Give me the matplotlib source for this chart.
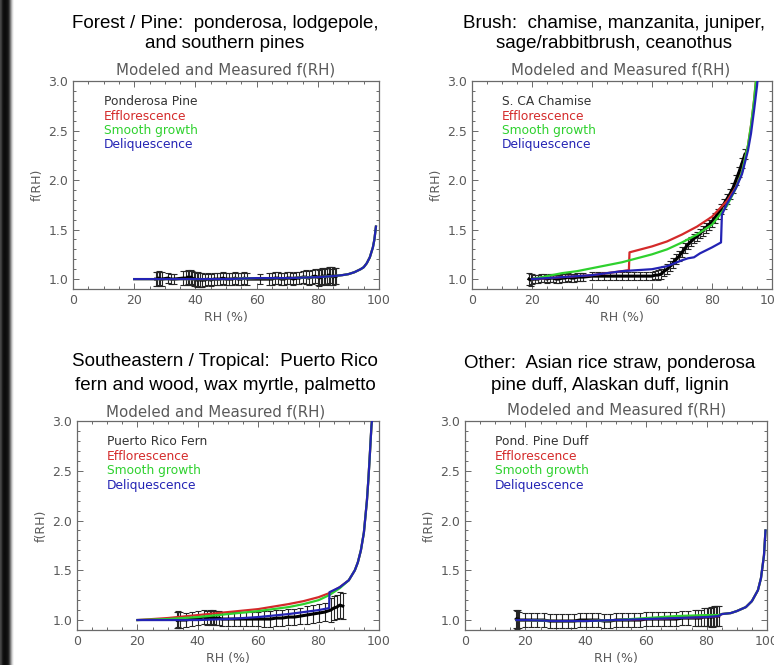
import numpy as np
import matplotlib
matplotlib.use("Agg")
import matplotlib.pyplot as plt
from matplotlib.ticker import MultipleLocator

# ---------------- data ----------------
headings = [
    ("Forest / Pine:  ponderosa, lodgepole,", "and southern pines"),
    ("Brush:  chamise, manzanita, juniper,", "sage/rabbitbrush, ceanothus"),
    ("Southeastern / Tropical:  Puerto Rico", "fern and wood, wax myrtle, palmetto"),
    ("Other:  Asian rice straw, ponderosa", "pine duff, Alaskan duff, lignin"),
]
sample_names = ["Ponderosa Pine", "S. CA Chamise", "Puerto Rico Fern", "Pond. Pine Duff"]
model_names = ["Efflorescence", "Smooth growth", "Deliquescence"]

# Panel 1: Ponderosa Pine (measured)
rh_meas1 = [27, 27.5, 28, 28.5, 29, 31, 32, 33, 36, 37,
            37.5, 38, 38.5, 39, 39.5, 40, 40.5, 41, 41.5, 42,
            43, 44, 45, 46, 47, 48, 49, 50, 51, 52,
            53, 54, 55, 56, 57, 61, 64, 65, 66, 67,
            68, 69, 70, 71, 72, 73, 74, 75, 76, 77,
            78, 79, 80, 80.5, 81, 81.5, 82, 82.5, 83, 83.5,
            84, 84.5, 85, 85.5, 86]
f_meas1 = [1.00, 1.00, 1.01, 1.00, 1.00, 1.01, 1.00, 1.00, 1.01, 1.01,
           1.02, 1.01, 1.02, 1.01, 1.00, 1.00, 0.99, 1.00, 0.99, 0.99,
           0.99, 1.00, 0.99, 1.00, 1.00, 1.00, 1.01, 1.00, 1.00, 1.00,
           1.01, 1.00, 1.00, 1.01, 1.00, 1.00, 1.00, 1.00, 1.01, 1.01,
           1.00, 1.00, 1.01, 1.01, 1.00, 1.01, 1.01, 1.02, 1.02, 1.01,
           1.02, 1.03, 1.02, 1.01, 1.02, 1.03, 1.03, 1.02, 1.03, 1.04,
           1.03, 1.03, 1.02, 1.03, 1.03]
err_meas1 = [0.07, 0.07, 0.07, 0.07, 0.07, 0.05, 0.05, 0.05, 0.07, 0.07,
             0.07, 0.07, 0.07, 0.07, 0.07, 0.07, 0.07, 0.07, 0.07, 0.07,
             0.06, 0.06, 0.06, 0.06, 0.06, 0.06, 0.06, 0.06, 0.06, 0.06,
             0.06, 0.06, 0.06, 0.06, 0.06, 0.05, 0.06, 0.06, 0.06, 0.06,
             0.06, 0.06, 0.06, 0.06, 0.06, 0.06, 0.06, 0.06, 0.07, 0.07,
             0.07, 0.07, 0.08, 0.08, 0.08, 0.08, 0.08, 0.08, 0.08, 0.08,
             0.09, 0.09, 0.08, 0.08, 0.08]

# Panel 1: model curves
rh_eff1 = [20, 30, 40, 50, 60, 70, 80, 85, 88, 90, 92, 94, 95, 96, 97, 98, 98.5, 99]
f_eff1 = [1.00, 1.00, 1.00, 1.00, 1.01, 1.01, 1.02, 1.03, 1.04, 1.05, 1.07, 1.10, 1.12, 1.16, 1.22, 1.32, 1.40, 1.53]
rh_grow1 = [20, 30, 40, 50, 60, 70, 80, 85, 88, 90, 92, 94, 95, 96, 97, 98, 98.5, 99]
f_grow1 = [1.00, 1.00, 1.00, 1.00, 1.01, 1.01, 1.02, 1.03, 1.04, 1.05, 1.07, 1.10, 1.12, 1.16, 1.22, 1.32, 1.40, 1.53]
rh_deliq1 = [20, 30, 40, 50, 60, 70, 80, 85, 88, 90, 92, 94, 95, 96, 97, 98, 98.5, 99]
f_deliq1 = [1.00, 1.00, 1.00, 1.00, 1.01, 1.01, 1.02, 1.03, 1.04, 1.05, 1.07, 1.10, 1.12, 1.16, 1.22, 1.32, 1.40, 1.53]

# Panel 2: S. CA Chamise (measured)
rh_meas2 = [19, 19.5, 20, 21, 22, 23, 24, 25, 26, 27,
            28, 29, 30, 31, 32, 33, 34, 35, 36, 37,
            40, 42, 44, 46, 48, 50, 52, 54, 56, 58,
            60, 61, 62, 63, 64, 65, 66, 67, 68, 69,
            70, 71, 72, 73, 74, 75, 76, 77, 78, 79,
            80, 81, 82, 83, 84, 85, 86, 87, 88, 89,
            90, 91]
f_meas2 = [1.00, 0.99, 1.00, 1.00, 1.00, 1.01, 1.01, 1.00, 1.01, 1.01,
           1.00, 1.00, 1.01, 1.01, 1.02, 1.01, 1.01, 1.02, 1.02, 1.02,
           1.03, 1.03, 1.03, 1.03, 1.03, 1.03, 1.03, 1.03, 1.03, 1.03,
           1.03, 1.04, 1.04, 1.05, 1.08, 1.10, 1.13, 1.16, 1.20, 1.23,
           1.27, 1.31, 1.35, 1.38, 1.41, 1.43, 1.46, 1.49, 1.52, 1.55,
           1.58, 1.62, 1.66, 1.71, 1.76, 1.81, 1.86, 1.92, 2.00, 2.08,
           2.17, 2.26]
err_meas2 = [0.06, 0.06, 0.05, 0.04, 0.04, 0.04, 0.04, 0.04, 0.04, 0.04,
             0.04, 0.04, 0.04, 0.04, 0.04, 0.04, 0.04, 0.04, 0.04, 0.04,
             0.04, 0.04, 0.04, 0.04, 0.04, 0.04, 0.04, 0.04, 0.04, 0.04,
             0.04, 0.04, 0.05, 0.05, 0.05, 0.05, 0.05, 0.05, 0.05, 0.05,
             0.05, 0.05, 0.05, 0.05, 0.05, 0.05, 0.05, 0.05, 0.05, 0.05,
             0.05, 0.05, 0.05, 0.05, 0.05, 0.05, 0.05, 0.05, 0.05, 0.05,
             0.05, 0.05]

# Panel 2: model curves
rh_eff2 = [20, 25, 30, 35, 40, 45, 50, 52.3, 52.5, 55, 60, 65, 70, 75, 80, 85, 88, 90, 92, 93, 94, 94.8]
f_eff2 = [1.00, 1.01, 1.02, 1.03, 1.04, 1.06, 1.08, 1.09, 1.27, 1.29, 1.33, 1.38, 1.45, 1.53, 1.63, 1.79, 1.93, 2.08, 2.35, 2.55, 2.80, 3.05]
rh_grow2 = [20, 25, 30, 35, 40, 45, 50, 55, 60, 65, 70, 75, 80, 85, 88, 90, 92, 93, 94, 94.8]
f_grow2 = [1.00, 1.03, 1.06, 1.08, 1.11, 1.14, 1.17, 1.21, 1.25, 1.30, 1.37, 1.45, 1.55, 1.74, 1.92, 2.08, 2.35, 2.55, 2.80, 3.05]
rh_deliq2 = [20, 25, 30, 35, 40, 45, 50, 55, 60, 65, 70, 72, 74, 76, 80, 83, 83.3, 85, 88, 90, 92, 93, 94, 95, 95.3]
f_deliq2 = [1.00, 1.01, 1.02, 1.03, 1.04, 1.06, 1.08, 1.09, 1.10, 1.13, 1.19, 1.21, 1.22, 1.26, 1.32, 1.37, 1.65, 1.76, 1.92, 2.06, 2.30, 2.47, 2.70, 2.95, 3.05]

# Panel 3: Puerto Rico Fern (measured)
rh_meas3 = [33, 33.3, 33.6, 34, 36, 38, 40, 42, 43, 44,
            44.5, 45, 45.5, 46, 47, 48, 50, 52, 54, 56,
            58, 60, 62, 64, 66, 68, 70, 72, 74, 76,
            78, 80, 82, 84, 85, 86, 87, 88]
f_meas3 = [1.00, 1.01, 1.00, 1.00, 1.00, 1.01, 1.02, 1.03, 1.02, 1.03,
           1.02, 1.03, 1.02, 1.02, 1.02, 1.01, 1.01, 1.01, 1.01, 1.01,
           1.01, 1.01, 1.01, 1.01, 1.02, 1.02, 1.03, 1.03, 1.04, 1.05,
           1.06, 1.07, 1.08, 1.10, 1.12, 1.13, 1.15, 1.14]
err_meas3 = [0.08, 0.08, 0.08, 0.08, 0.07, 0.07, 0.07, 0.07, 0.07, 0.07,
             0.07, 0.07, 0.07, 0.07, 0.07, 0.07, 0.07, 0.07, 0.07, 0.07,
             0.07, 0.07, 0.08, 0.08, 0.08, 0.08, 0.08, 0.08, 0.08, 0.09,
             0.09, 0.09, 0.09, 0.12, 0.12, 0.12, 0.13, 0.13]

# Panel 3: model curves
rh_eff3 = [20, 30, 40, 50, 60, 70, 75, 80, 83.5, 87, 90, 92, 93, 94, 95, 96, 96.5, 97, 97.5, 97.8]
f_eff3 = [1.00, 1.02, 1.05, 1.08, 1.11, 1.16, 1.19, 1.23, 1.27, 1.33, 1.40, 1.50, 1.58, 1.70, 1.88, 2.20, 2.42, 2.68, 2.95, 3.05]
rh_grow3 = [20, 30, 40, 50, 60, 70, 75, 80, 83.5, 87, 90, 92, 93, 94, 95, 96, 96.5, 97, 97.5, 97.8]
f_grow3 = [1.00, 1.01, 1.03, 1.06, 1.09, 1.13, 1.16, 1.20, 1.25, 1.32, 1.40, 1.50, 1.58, 1.70, 1.88, 2.20, 2.42, 2.68, 2.95, 3.05]
rh_deliq3 = [20, 30, 40, 50, 60, 70, 75, 80, 83.5, 83.6, 85, 87, 90, 92, 93, 94, 95, 96, 96.5, 97, 97.5, 97.8]
f_deliq3 = [1.00, 1.00, 1.00, 1.01, 1.03, 1.06, 1.08, 1.10, 1.12, 1.28, 1.30, 1.33, 1.40, 1.50, 1.58, 1.70, 1.88, 2.20, 2.42, 2.68, 2.95, 3.05]

# Panel 4: Pond. Pine Duff (measured)
rh_meas4 = [17, 17.3, 17.6, 18, 20, 22, 24, 26, 28, 30,
            32, 34, 36, 38, 40, 42, 44, 46, 48, 50,
            52, 54, 56, 58, 60, 62, 64, 66, 68, 70,
            72, 74, 76, 77, 78, 79, 80, 80.5, 81, 81.5,
            82, 82.5, 83, 83.5, 84]
f_meas4 = [1.01, 1.00, 1.01, 1.00, 1.00, 1.00, 1.00, 1.00, 0.99, 0.99,
           0.99, 0.99, 0.99, 1.00, 1.00, 1.00, 1.00, 0.99, 0.99, 1.00,
           1.00, 1.00, 1.00, 1.00, 1.01, 1.01, 1.01, 1.01, 1.01, 1.01,
           1.02, 1.02, 1.02, 1.02, 1.02, 1.03, 1.03, 1.03, 1.03, 1.03,
           1.03, 1.04, 1.04, 1.04, 1.04]
err_meas4 = [0.09, 0.09, 0.09, 0.08, 0.07, 0.07, 0.07, 0.07, 0.07, 0.07,
             0.07, 0.07, 0.07, 0.07, 0.07, 0.07, 0.07, 0.07, 0.07, 0.07,
             0.07, 0.07, 0.07, 0.07, 0.07, 0.07, 0.07, 0.07, 0.07, 0.07,
             0.07, 0.07, 0.08, 0.08, 0.08, 0.09, 0.09, 0.09, 0.09, 0.10,
             0.10, 0.10, 0.10, 0.10, 0.10]

# Panel 4: model curves
rh_eff4 = [17, 20, 30, 40, 50, 60, 70, 80, 84, 85, 88, 90, 93, 95, 97, 98, 99, 99.5]
f_eff4 = [1.00, 1.00, 0.99, 0.99, 1.00, 1.01, 1.02, 1.03, 1.04, 1.06, 1.07, 1.09, 1.13, 1.19, 1.30, 1.42, 1.65, 1.90]
rh_grow4 = [17, 20, 30, 40, 50, 60, 70, 80, 84, 85, 88, 90, 93, 95, 97, 98, 99, 99.5]
f_grow4 = [1.00, 1.00, 0.99, 0.99, 1.00, 1.02, 1.04, 1.05, 1.05, 1.06, 1.07, 1.09, 1.13, 1.19, 1.30, 1.42, 1.65, 1.90]
rh_deliq4 = [17, 20, 30, 40, 50, 60, 70, 80, 84, 85, 88, 90, 93, 95, 97, 98, 99, 99.5]
f_deliq4 = [1.00, 1.00, 0.99, 0.99, 1.00, 1.01, 1.02, 1.03, 1.04, 1.06, 1.07, 1.09, 1.13, 1.19, 1.30, 1.42, 1.65, 1.90]

panels = [
    (rh_meas1, f_meas1, err_meas1, [(rh_eff1, f_eff1), (rh_grow1, f_grow1), (rh_deliq1, f_deliq1)]),
    (rh_meas2, f_meas2, err_meas2, [(rh_eff2, f_eff2), (rh_grow2, f_grow2), (rh_deliq2, f_deliq2)]),
    (rh_meas3, f_meas3, err_meas3, [(rh_eff3, f_eff3), (rh_grow3, f_grow3), (rh_deliq3, f_deliq3)]),
    (rh_meas4, f_meas4, err_meas4, [(rh_eff4, f_eff4), (rh_grow4, f_grow4), (rh_deliq4, f_deliq4)]),
]

# ---------------- layout / style ----------------
W, H = 774, 665
model_colors = ["#d42a2a", "#2ed12e", "#2323b4"]
axis_gray = "#6a6a6a"
text_gray = "#5a5a5a"

# axes boxes in pixels: left, right, top, bottom
boxes = [(73, 379, 81, 289), (472, 772, 81, 289), (77, 379, 421, 630), (465, 767, 421, 630)]
heading_pos = [(225, 23, 43), (614, 23, 43), (225, 362, 385), (610, 363, 385)]
subtitle_pos = [(226, 70), (621, 70), (216, 412), (617, 410)]

fig = plt.figure(figsize=(W / 100, H / 100), dpi=100)
fig.patch.set_facecolor("white")

# dark shaded strip on the left edge
strip = fig.add_axes([0, 0, 15 / W, 1])
shade = np.array([[0.28, 0.22, 0.12, 0.07, 0.05, 0.05, 0.06, 0.08, 0.14, 0.28,
                   0.48, 0.68, 0.85, 0.95, 1.0]])
strip.imshow(shade, cmap="gray", vmin=0, vmax=1, aspect="auto", interpolation="bilinear")
strip.axis("off")

for i, (rh, fm, err, models) in enumerate(panels):
    l, r, t, b = boxes[i]
    ax = fig.add_axes([l / W, 1 - b / H, (r - l) / W, (b - t) / H])
    ax.set_xlim(0, 100)
    ax.set_ylim(0.9, 3.0)

    # measured values with error bars
    ax.errorbar(rh, fm, yerr=err, fmt="none", ecolor="#262626", elinewidth=0.8,
                capsize=2.0, capthick=0.8, zorder=2)
    if i == 1:
        ax.plot(rh, fm, linestyle="none", marker="+", ms=3.5, mew=0.7, color="#555555", zorder=2)
    ax.plot(rh, fm, color="black", lw=2.2, zorder=3)

    # modeled curves
    for (mx, my), c in zip(models, model_colors):
        ax.plot(mx, my, color=c, lw=1.6, zorder=4)

    # legend as coloured text
    ax.text(0.10, 0.90, sample_names[i], transform=ax.transAxes, fontsize=8.8,
            color="#333333", va="center", ha="left")
    for k, (name, c) in enumerate(zip(model_names, model_colors)):
        ax.text(0.10, 0.90 - 0.069 * (k + 1), name, transform=ax.transAxes, fontsize=8.8,
                color=c, va="center", ha="left")

    # axis cosmetics
    for sp in ax.spines.values():
        sp.set_color(axis_gray)
        sp.set_linewidth(0.9)
    ax.xaxis.set_major_locator(MultipleLocator(20))
    ax.xaxis.set_minor_locator(MultipleLocator(5))
    ax.yaxis.set_major_locator(MultipleLocator(0.5))
    ax.yaxis.set_minor_locator(MultipleLocator(0.1))
    ax.tick_params(which="both", direction="in", top=True, right=True, color=axis_gray,
                   labelcolor=text_gray, labelsize=9, width=0.7)
    ax.tick_params(which="major", length=4.5)
    ax.tick_params(which="minor", length=2)
    ax.set_yticks([1.0, 1.5, 2.0, 2.5, 3.0])
    ax.set_yticklabels(["1.0", "1.5", "2.0", "2.5", "3.0"])
    ax.set_xlabel("RH (%)", fontsize=9, color=text_gray, labelpad=3)
    ax.set_ylabel("f(RH)", fontsize=9, color=text_gray, labelpad=3)

    hx, hy1, hy2 = heading_pos[i]
    fig.text(hx / W, 1 - hy1 / H, headings[i][0], fontsize=13.5, family="Liberation Sans",
             ha="center", va="center", color="black")
    fig.text(hx / W, 1 - hy2 / H, headings[i][1], fontsize=13.5, family="Liberation Sans",
             ha="center", va="center", color="black")
    sx, sy = subtitle_pos[i]
    fig.text(sx / W, 1 - sy / H, "Modeled and Measured f(RH)", fontsize=10.8,
             ha="center", va="center", color=text_gray)

fig.savefig("out.png", dpi=100, facecolor="white")
